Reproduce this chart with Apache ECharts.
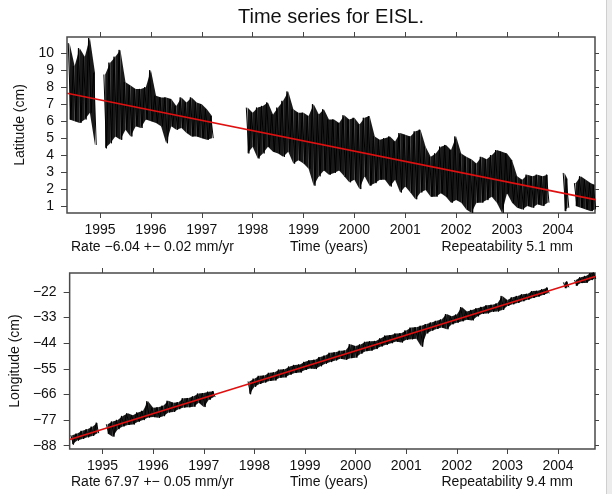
<!DOCTYPE html>
<html><head><meta charset="utf-8">
<script src="https://cdn.jsdelivr.net/npm/echarts@6/dist/echarts.min.js"></script>
<style>html,body{margin:0;padding:0;background:#fff}#c{width:612px;height:494px}</style>
</head><body><div id="c"></div>
<script>
// bin centres (years); a null value marks a data gap
const binYears = [1994.4,1994.5,1994.6,1994.7,1994.8,1994.9,1995.0,
 1995.1,1995.2,1995.3,1995.4,1995.5,1995.6,1995.7,1995.8,1995.9,1996.0,
 1996.1,1996.2,1996.3,1996.4,1996.5,1996.6,1996.7,1996.8,1996.9,1997.0,
 1997.1,1997.2,1997.5,
 1997.9,1998.0,
 1998.1,1998.2,1998.3,1998.4,1998.5,1998.6,1998.7,1998.8,1998.9,1999.0,
 1999.1,1999.2,1999.3,1999.4,1999.5,1999.6,1999.7,1999.8,1999.9,2000.0,
 2000.1,2000.2,2000.3,2000.4,2000.5,2000.6,2000.7,2000.8,2000.9,2001.0,
 2001.1,2001.2,2001.3,2001.4,2001.5,2001.6,2001.7,2001.8,2001.9,2002.0,
 2002.1,2002.2,2002.3,2002.4,2002.5,2002.6,2002.7,2002.8,2002.9,2003.0,
 2003.1,2003.2,2003.3,2003.4,2003.5,2003.6,2003.7,2003.8,2003.95,
 2004.13,2004.19,2004.26,
 2004.35,2004.45,2004.55,2004.65,2004.72];

const latHigh = [10.6,9.25,10.3,9.8,10.9,8.85,null,
 8.75,9.45,9.8,10.2,8.3,8.1,7.9,7.9,8.0,9.0,
 7.5,7.4,7.4,7.3,6.9,7.4,7.1,7.4,7.1,7.0,
 6.7,6.3,null,
 6.8,6.5,
 6.8,6.9,7.1,6.4,6.8,7.2,7.75,6.7,6.5,6.5,
 6.3,7.0,6.4,6.7,6.1,6.1,5.9,6.35,6.1,6.2,
 5.8,6.2,6.3,5.1,4.9,5.0,5.1,4.8,5.3,5.2,
 5.1,5.4,5.5,4.5,3.9,4.1,4.5,4.6,4.3,5.1,
 4.1,3.9,3.75,3.5,3.9,3.75,4.0,4.3,4.2,4.1,
 3.7,2.75,2.55,2.85,2.75,2.85,2.75,2.85,null,
 2.95,2.6,null,
 2.35,2.75,2.55,2.35,2.25];
const latLow = [6.1,6.0,5.9,6.1,6.5,4.6,null,
 4.4,4.7,5.1,4.9,5.5,5.1,5.7,5.6,6.1,6.0,
 5.9,5.7,4.7,5.7,5.5,5.6,5.3,5.1,5.1,5.0,
 4.9,5.0,null,
 4.1,4.5,
 3.8,4.1,4.5,4.2,4.1,3.9,4.2,3.5,3.7,3.5,
 3.2,2.2,2.75,3.1,2.85,2.95,3.1,2.75,2.4,2.55,
 2.0,2.75,2.2,2.35,2.55,2.55,2.15,2.55,1.8,2.15,
 1.8,1.4,1.8,1.95,1.55,1.55,1.75,1.55,1.2,1.35,
 1.2,0.8,0.6,1.2,1.2,1.35,1.55,1.2,0.6,1.75,
 1.2,0.9,0.8,1.0,0.9,1.1,1.0,1.2,null,
 0.7,0.9,null,
 1.0,0.9,0.8,0.7,0.8];

const lonHigh = [-83.5,-82.8,-81.6,-80.9,-79.8,-78.1,null,
 -78.8,-77.6,-76.9,-75.2,-74.1,-74.9,-73.7,-73.0,-68.9,-71.7,
 -71.5,-70.8,-68.7,-69.5,-69.3,-67.6,-67.5,-66.8,-65.6,-65.4,
 -64.8,-64.6,null,
 -60.4,-59.2,
 -58.0,-57.9,-56.7,-56.5,-55.3,-55.2,-54.0,-53.3,-53.1,-52.0,
 -51.3,-51.1,-49.9,-49.3,-48.1,-47.9,-47.2,-47.1,-44.4,-45.2,
 -44.5,-43.4,-43.2,-43.0,-41.9,-40.7,-40.5,-39.8,-39.7,-38.5,
 -37.3,-37.1,-36.5,-35.8,-35.1,-34.4,-33.8,-31.5,-32.4,-31.7,
 -28.5,-30.4,-29.7,-29.0,-28.4,-27.7,-27.5,-26.9,-23.7,-25.5,
 -24.3,-23.7,-23.0,-22.8,-21.6,-21.5,-20.8,-20.1,null,
 -17.9,-17.5,null,
 -16.9,-15.7,-15.1,-13.9,-13.4];
const lonLow = [-87.5,-85.8,-85.1,-84.4,-83.8,-82.6,null,
 -82.8,-84.1,-80.9,-79.7,-79.1,-78.9,-77.7,-77.0,-75.9,-75.7,
 -76.0,-75.3,-73.7,-73.5,-72.3,-71.6,-71.5,-71.3,-69.6,-71.4,
 -68.3,-67.1,null,
 -65.9,-62.7,
 -61.5,-60.9,-60.2,-60.0,-58.8,-58.7,-57.5,-56.8,-56.6,-55.5,
 -54.8,-55.1,-53.9,-52.8,-52.1,-51.4,-50.7,-51.1,-50.4,-50.2,
 -48.5,-47.4,-47.2,-46.5,-45.4,-44.7,-44.0,-43.3,-43.7,-42.5,
 -42.3,-42.1,-45.5,-39.8,-38.6,-37.9,-37.3,-38.0,-35.9,-35.2,
 -34.6,-33.9,-34.2,-32.5,-31.4,-31.2,-30.5,-30.4,-29.7,-28.0,
 -27.3,-26.7,-26.0,-25.3,-24.6,-24.0,-23.3,-22.6,null,
 -20.4,-20.0,null,
 -19.4,-18.2,-18.1,-16.9,-16.4];

const latTrend = [[1994.35, 7.65], [2004.73, 1.38]];
const lonTrend = [[1994.35, -85.3], [2004.73, -15.34]];

const yearTicks = [1995,1996,1997,1998,1999,2000,2001,2002,2003,2004];
const latTicks = [1,2,3,4,5,6,7,8,9,10];
const lonTicks = [-88,-77,-66,-55,-44,-33,-22];

const FONT = 'Liberation Sans, Arial, sans-serif';
const X_MIN = 1994.35, X_MAX = 2004.73;

function zigzag(hi, lo) {
  const pts = [];
  binYears.forEach((t, i) => {
    if (hi[i] == null) { pts.push([t, null]); return; }
    pts.push([t - 0.025, hi[i]]);
    pts.push([t + 0.025, lo[i]]);
  });
  return pts;
}
function bandSegments(hi, lo) {
  const out = [];
  for (let i = 0; i < binYears.length - 1; i++) {
    if (hi[i] == null || hi[i + 1] == null) continue;
    out.push([binYears[i], hi[i], lo[i], binYears[i + 1], hi[i + 1], lo[i + 1]]);
  }
  return out;
}
function renderBand(params, api) {
  const a = api.coord([api.value(0), api.value(1)]);
  const b = api.coord([api.value(3), api.value(4)]);
  const c = api.coord([api.value(3), api.value(5)]);
  const d = api.coord([api.value(0), api.value(2)]);
  const cs = params.coordSys;
  const pts = echarts.graphic.clipPointsByRect([a, b, c, d], { x: cs.x, y: cs.y, width: cs.width, height: cs.height });
  return { type: 'polygon', shape: { points: pts }, style: { fill: '#000', opacity: 0.9 } };
}

const tickStyle = { color: '#444', width: 1 };
function xAxes(grid) {
  return [
    { gridIndex: grid, type: 'value', min: X_MIN, max: X_MAX, position: 'bottom',
      axisLine: { show: false }, splitLine: { show: false },
      axisTick: { show: true, length: 5, customValues: yearTicks, lineStyle: tickStyle },
      axisLabel: { customValues: yearTicks, margin: 10, fontSize: 14, color: '#111', fontFamily: FONT,
        formatter: v => String(v) } },
    { gridIndex: grid, type: 'value', min: X_MIN, max: X_MAX, position: 'top',
      axisLine: { show: false }, splitLine: { show: false },
      axisTick: { show: true, length: 5, customValues: yearTicks, lineStyle: tickStyle },
      axisLabel: { show: false } }
  ];
}
function yAxes(grid, min, max, ticks, name) {
  return [
    { gridIndex: grid, type: 'value', min: min, max: max, position: 'left',
      name: name, nameLocation: 'middle', nameGap: 36,
      nameTextStyle: { fontSize: 14, color: '#111', fontFamily: FONT },
      axisLine: { show: false }, splitLine: { show: false },
      axisTick: { show: true, length: 6, customValues: ticks, lineStyle: tickStyle },
      axisLabel: { customValues: ticks, margin: 13, fontSize: 14, color: '#111', fontFamily: FONT,
        formatter: v => String(v).replace('-', '\u2212') } },
    { gridIndex: grid, type: 'value', min: min, max: max, position: 'right',
      axisLine: { show: false }, splitLine: { show: false },
      axisTick: { show: true, length: 4, customValues: ticks, lineStyle: tickStyle },
      axisLabel: { show: false } }
  ];
}

const chart = echarts.init(document.getElementById('c'), null, { renderer: 'canvas' });
const txt = (x, y, s, align, size) => ({ type: 'text', x: x, y: y,
  style: { text: s, fontSize: size || 14, fontFamily: FONT, fill: '#111', align: align, verticalAlign: 'middle' } });

chart.setOption({
  animation: false,
  backgroundColor: '#fff',
  grid: [
    { left: 67, top: 37, width: 528, height: 176, show: true, borderColor: '#4a4a4a', borderWidth: 1.5, backgroundColor: 'transparent' },
    { left: 67, top: 273, width: 528, height: 176, show: true, borderColor: '#4a4a4a', borderWidth: 1.5, backgroundColor: 'transparent' }
  ],
  xAxis: xAxes(0).concat(xAxes(1)),
  yAxis: yAxes(0, 0.59, 10.96, latTicks, 'Latitude (cm)').concat(yAxes(1, -89.4, -13.86, lonTicks, 'Longitude (cm)')),
  series: [
    { type: 'custom', xAxisIndex: 0, yAxisIndex: 0, data: bandSegments(latHigh, latLow),
      encode: { x: [0, 3], y: [1, 2, 4, 5] }, renderItem: renderBand, silent: true },
    { type: 'line', xAxisIndex: 0, yAxisIndex: 0, data: zigzag(latHigh, latLow), showSymbol: false,
      connectNulls: false, clip: true, lineStyle: { color: '#000', width: 1 }, silent: true },
    { type: 'line', xAxisIndex: 0, yAxisIndex: 0, data: latTrend, showSymbol: false, clip: true,
      lineStyle: { color: '#e01010', width: 1.6 }, silent: true },
    { type: 'custom', xAxisIndex: 2, yAxisIndex: 2, data: bandSegments(lonHigh, lonLow),
      encode: { x: [0, 3], y: [1, 2, 4, 5] }, renderItem: renderBand, silent: true },
    { type: 'line', xAxisIndex: 2, yAxisIndex: 2, data: zigzag(lonHigh, lonLow), showSymbol: false,
      connectNulls: false, clip: true, lineStyle: { color: '#000', width: 1 }, silent: true },
    { type: 'line', xAxisIndex: 2, yAxisIndex: 2, data: lonTrend, showSymbol: false, clip: true,
      lineStyle: { color: '#e01010', width: 1.6 }, silent: true }
  ],
  graphic: [
    txt(331, 17, 'Time series for EISL.', 'center', 20),
    txt(71, 247, 'Rate \u22126.04 +\u2212 0.02 mm/yr', 'left'),
    txt(329, 247, 'Time (years)', 'center'),
    txt(573, 247, 'Repeatability 5.1 mm', 'right'),
    txt(71, 482, 'Rate 67.97 +\u2212 0.05 mm/yr', 'left'),
    txt(329, 482, 'Time (years)', 'center'),
    txt(573, 482, 'Repeatability 9.4 mm', 'right'),
    { type: 'rect', shape: { x: 606, y: 0, width: 6, height: 494 }, style: { fill: '#ececec' } },
    { type: 'line', shape: { x1: 606.5, y1: 0, x2: 606.5, y2: 494 }, style: { stroke: '#cfcfcf', lineWidth: 1 } }
  ]
});
</script></body></html>
